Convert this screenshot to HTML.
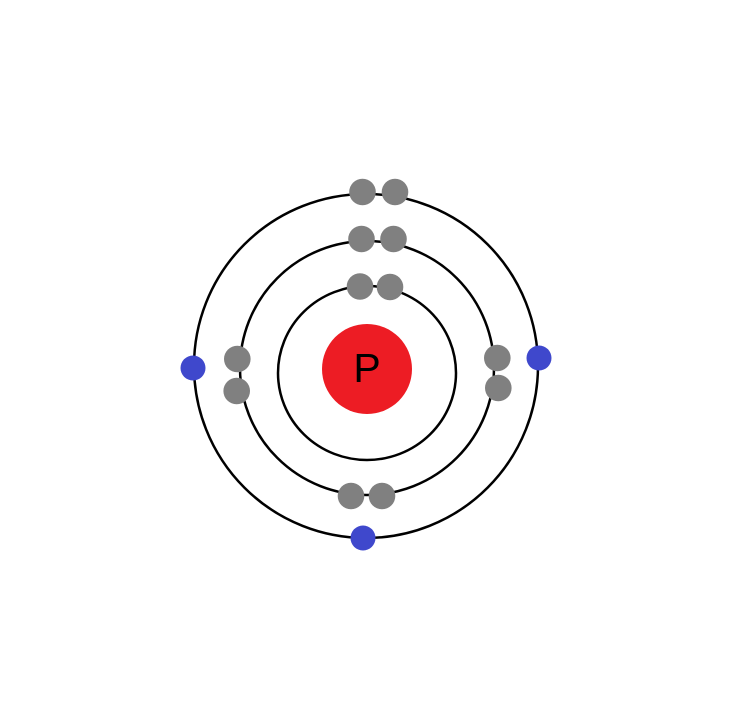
<!DOCTYPE html>
<html><head><style>html,body{margin:0;padding:0;background:#fff;}svg{display:block;}</style></head>
<body>
<svg width="736" height="725" viewBox="0 0 736 725">
<rect width="736" height="725" fill="#fff"/>
<g fill="none" stroke="#000" stroke-width="2.5">
<ellipse cx="367" cy="373" rx="89" ry="87"/>
<circle cx="367" cy="368" r="127"/>
<circle cx="366" cy="366" r="172"/>
</g>
<circle cx="367" cy="369" r="45" fill="#ed1c24"/>
<text x="367" y="382" text-anchor="middle" font-family="Liberation Sans, sans-serif" font-size="41" fill="#000">P</text>
<g fill="#808080">
<circle cx="362.5" cy="192" r="13.3"/>
<circle cx="395" cy="192" r="13.3"/>
<circle cx="361.5" cy="239" r="13.3"/>
<circle cx="393.5" cy="239" r="13.3"/>
<circle cx="360" cy="286.5" r="13.3"/>
<circle cx="390" cy="287" r="13.3"/>
<circle cx="237.3" cy="359" r="13.3"/>
<circle cx="236.7" cy="391" r="13.3"/>
<circle cx="497.3" cy="358" r="13.3"/>
<circle cx="498.3" cy="388" r="13.3"/>
<circle cx="351" cy="496" r="13.3"/>
<circle cx="382" cy="496" r="13.3"/>
</g>
<g fill="#3f48cc">
<circle cx="193" cy="368" r="12.5"/>
<circle cx="539" cy="358" r="12.5"/>
<circle cx="363" cy="538" r="12.5"/>
</g>
</svg>
</body></html>
